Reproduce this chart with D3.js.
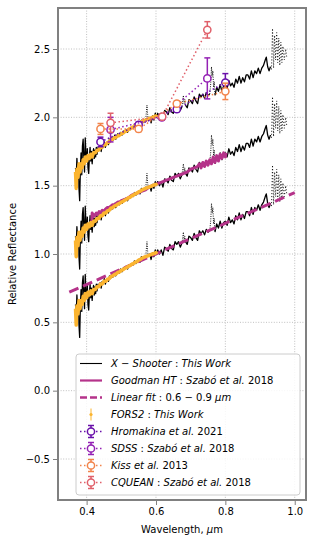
<!DOCTYPE html>
<html><head><meta charset="utf-8">
<script src="https://cdn.jsdelivr.net/npm/d3@7"></script>
<style>body{margin:0;background:#fff}svg{display:block;font-family:"DejaVu Sans",sans-serif}</style>
</head><body>
<script>
// ---- DATA ----
const xTicks = [0.4, 0.6, 0.8, 1.0];
const yTicks = [-0.5, 0.0, 0.5, 1.0, 1.5, 2.0, 2.5];
const offsets = [0, 0.5, 1.0];            // vertical shifts of the three spectra
const goodmanOffset = 0.5;
const tellurics = [[0.570, 0.578], [0.675, 0.685], [0.755, 0.770], [0.930, 0.980]];

// X-Shooter spectrum (wavelength, reflectance) -- base, offset 0
const xsWl = [0.368,0.370,0.372,0.374,0.376,0.378,0.380,0.382,0.384,0.386,0.388,0.390,0.392,0.394,0.396,0.398,0.400,0.402,0.404,0.406,0.408,0.410,0.412,0.414,0.416,0.418,0.420,0.422,0.424,0.426,0.428,
  0.430,0.433,0.436,0.439,0.442,0.445,0.448,0.451,0.454,0.457,0.460,0.463,0.466,0.469,0.472,0.475,0.478,0.481,0.484,0.487,0.490,0.494,0.498,0.502,0.506,0.510,0.514,0.518,0.522,0.526,0.530,0.534,0.538,0.542,0.546,0.550,0.554,0.558,0.562,0.566,0.570,
  0.572,0.574,0.576,0.578,0.582,0.586,0.590,0.594,0.598,
  0.600,0.605,0.610,0.615,0.620,0.625,0.630,0.635,0.640,0.645,0.650,0.655,0.660,0.665,0.670,0.675,
  0.677,0.679,0.681,0.683,0.685,
  0.690,0.695,0.700,0.705,0.710,0.715,0.720,0.725,0.730,0.735,0.740,0.745,0.750,0.755,
  0.758,0.760,0.762,0.764,0.766,0.768,0.770,
  0.775,0.780,0.785,0.790,0.795,0.800,0.805,0.810,0.815,0.820,0.825,0.830,0.835,0.840,0.845,0.850,0.855,0.860,0.865,0.870,0.875,0.880,0.885,0.890,0.895,0.900,0.905,0.910,
  0.915,0.918,0.922,0.926,0.930,
  0.933,0.936,0.939,0.942,0.945,0.948,0.951,0.954,0.957,0.960,0.963,0.966,0.970,0.974,0.977];
const xsVal = [0.63,0.56,0.70,0.60,0.66,0.48,0.39,0.62,0.74,0.58,0.79,0.84,0.70,0.60,0.85,0.72,0.68,0.77,0.63,0.59,0.71,0.78,0.68,0.75,0.66,0.73,0.77,0.70,0.76,0.71,0.78,
  0.73,0.78,0.76,0.79,0.75,0.80,0.79,0.82,0.78,0.81,0.82,0.80,0.84,0.82,0.85,0.83,0.84,0.87,0.84,0.86,0.88,0.86,0.89,0.87,0.90,0.89,0.91,0.89,0.92,0.91,0.93,0.92,0.95,0.93,0.95,0.96,0.94,0.98,0.96,0.98,0.97,
  1.03,1.09,1.02,0.98,1.00,0.96,1.01,0.98,1.03,
  1.00,1.03,1.00,1.03,0.99,1.05,1.04,1.02,1.07,1.04,1.03,1.09,1.07,1.09,1.05,1.08,
  1.12,1.16,1.10,1.13,1.09,
  1.07,1.13,1.12,1.10,1.15,1.12,1.10,1.17,1.15,1.17,1.14,1.18,1.16,1.17,
  1.25,1.37,1.30,1.34,1.22,1.26,1.16,
  1.22,1.19,1.24,1.19,1.23,1.24,1.21,1.27,1.23,1.25,1.22,1.28,1.25,1.30,1.25,1.29,1.26,1.31,1.31,1.28,1.34,1.29,1.34,1.32,1.36,1.32,1.36,1.38,
  1.42,1.44,1.37,1.34,1.37,
  1.35,1.65,1.36,1.60,1.42,1.62,1.40,1.58,1.38,1.55,1.40,1.52,1.42,1.50,1.44];

// FORS2 spectrum -- base, offset 0
const forsWl = [0.368,0.370,0.372,0.375,0.378,0.381,0.384,0.387,0.390,0.393,0.396,0.400,0.404,0.408,0.412,0.416,0.420,0.425,0.430,0.435,0.440,0.445,0.450,0.455,0.460,0.465,0.470,0.475,0.480,0.485,0.490,0.495,0.500,0.505,0.510,0.515,0.520,0.525,0.530,0.535,0.540,0.545,0.550,0.555,0.560,0.565,0.570,0.575,0.580,0.585,0.590,0.595,0.600,0.603];
const forsVal = [0.60,0.48,0.62,0.56,0.66,0.60,0.66,0.63,0.69,0.66,0.71,0.68,0.72,0.70,0.73,0.71,0.74,0.74,0.76,0.76,0.78,0.78,0.80,0.80,0.815,0.82,0.835,0.84,0.85,0.855,0.865,0.87,0.88,0.885,0.895,0.90,0.91,0.915,0.925,0.93,0.94,0.945,0.955,0.96,0.97,0.975,0.98,0.985,0.99,0.995,1.00,1.005,1.01,1.00];

// Goodman HT spectrum -- base (drawn with offset 0.5)
const gdWl = [0.415,0.416,0.418,0.420,0.424,0.428,0.432,0.436,0.440,0.445,0.450,0.455,0.460,0.465,0.470,0.475,0.480,0.485,0.490,0.495,0.500,0.510,0.520,0.530,0.540,0.550,0.560,0.570,0.580,0.590,0.600,0.610,0.620,0.630,0.640,0.650,0.660,0.670,0.680,0.690,0.700,0.710,0.720,0.725,0.730,0.735,0.740,0.745,0.750,0.755,0.760,0.765,0.770,0.775,0.780,0.785,0.790,0.795,0.800,0.802];
const gdVal = [0.73,0.80,0.77,0.79,0.78,0.80,0.79,0.81,0.80,0.82,0.81,0.83,0.84,0.84,0.85,0.86,0.86,0.87,0.88,0.88,0.89,0.90,0.91,0.93,0.94,0.95,0.96,0.97,0.99,1.00,1.01,1.02,1.03,1.04,1.05,1.06,1.07,1.08,1.09,1.10,1.12,1.13,1.14,1.16,1.13,1.17,1.14,1.18,1.15,1.19,1.16,1.21,1.17,1.22,1.18,1.23,1.20,1.24,1.21,1.24];

// Linear fit 0.6-0.9 um
const fitWl = [0.35, 1.0];
const fitVal = [0.721, 1.449];

// Photometry
const hroWl = [0.44, 0.55, 0.66, 0.80];
const hroVal = [1.82, 1.945, 2.06, 2.255];
const hroErr = [0.035, 0.02, 0.02, 0.065];
const sdssWl = [0.469, 0.617, 0.748];
const sdssVal = [1.91, 2.0, 2.285];
const sdssErr = [0.09, 0.02, 0.15];
const kissWl = [0.44, 0.55, 0.66, 0.80];
const kissVal = [1.915, 1.915, 2.10, 2.19];
const kissErr = [0.04, 0.02, 0.02, 0.06];
const cqWl = [0.469, 0.618, 0.748];
const cqVal = [1.96, 2.005, 2.64];
const cqErr = [0.07, 0.02, 0.06];

// ---- CHART ----
const W = 314, H = 544;
const svg = d3.select("body").append("svg").attr("width", W).attr("height", H);
const x = d3.scaleLinear().domain([0.3175, 1.0325]).range([58, 306]);
const y = d3.scaleLinear().domain([-0.8, 2.8]).range([500, 8]);

const colBlack = "#000", colGood = "#b5338a", colFors = "#fbb42f",
      colHro = "#6a10aa", colSdss = "#9421b4", colKiss = "#f2844b", colCq = "#e0606a";

svg.append("defs").append("clipPath").attr("id", "clip")
  .append("rect").attr("x", 58).attr("y", 8).attr("width", 248).attr("height", 492);

// grid
const grid = svg.append("g");
grid.selectAll(".gx").data(xTicks).join("line")
  .attr("x1", d => x(d)).attr("x2", d => x(d)).attr("y1", 8).attr("y2", 500)
  .attr("stroke", "#b0b0b0").attr("stroke-width", 0.8).attr("stroke-dasharray", "1,1.6");
grid.selectAll(".gy").data(yTicks).join("line")
  .attr("y1", d => y(d)).attr("y2", d => y(d)).attr("x1", 58).attr("x2", 306)
  .attr("stroke", "#b0b0b0").attr("stroke-width", 0.8).attr("stroke-dasharray", "1,1.6");

const plot = svg.append("g").attr("clip-path", "url(#clip)");

const inTell = w => tellurics.some(t => w > t[0] && w < t[1]);
const xsPts = xsWl.map((w, i) => ({w, v: xsVal[i]}));
const redEnd = tellurics[tellurics.length - 1][0];

offsets.forEach(off => {
  const solid = xsPts.map(p => ({w: p.w, v: p.v, ok: !inTell(p.w) && p.w <= redEnd}));
  plot.append("path")
    .attr("d", d3.line().defined(p => p.ok).x(p => x(p.w)).y(p => y(p.v + off))(solid))
    .attr("fill", "none").attr("stroke", colBlack).attr("stroke-width", 1.3).attr("stroke-linejoin", "round");
  tellurics.forEach((t, k) => {
    const seg = xsPts.filter(p => p.w >= t[0] && p.w <= t[1]);
    plot.append("path")
      .attr("d", d3.line().x(p => x(p.w)).y(p => y(p.v + off))(seg))
      .attr("fill", "none").attr("stroke", colBlack).attr("stroke-width", 0.9)
      .attr("stroke-dasharray", k === tellurics.length - 1 ? "1,2" : "1,1.3");
  });
});

// Goodman HT
const gdPts = gdWl.map((w, i) => ({w, v: gdVal[i]}));
plot.append("path")
  .attr("d", d3.line().x(p => x(p.w)).y(p => y(p.v + goodmanOffset))(gdPts))
  .attr("fill", "none").attr("stroke", colGood).attr("stroke-width", 3).attr("stroke-linejoin", "round");

// Linear fit
const fitPts = fitWl.map((w, i) => ({w, v: fitVal[i]}));
plot.append("path")
  .attr("d", d3.line().x(p => x(p.w)).y(p => y(p.v))(fitPts))
  .attr("fill", "none").attr("stroke", colGood).attr("stroke-width", 3).attr("stroke-dasharray", "10,5");

// FORS2
const forsPts = forsWl.map((w, i) => ({w, v: forsVal[i]}));
offsets.forEach(off => {
  plot.append("path")
    .attr("d", d3.line().x(p => x(p.w)).y(p => y(p.v + off))(forsPts))
    .attr("fill", "none").attr("stroke", colFors).attr("stroke-width", 3.5).attr("stroke-linejoin", "round");
});

// Photometry
const sets = [
  {wl: hroWl, val: hroVal, err: hroErr, col: colHro},
  {wl: sdssWl, val: sdssVal, err: sdssErr, col: colSdss},
  {wl: kissWl, val: kissVal, err: kissErr, col: colKiss},
  {wl: cqWl, val: cqVal, err: cqErr, col: colCq}
];
sets.forEach(s => {
  const pts = s.wl.map((w, i) => ({w, v: s.val[i], e: s.err[i]}));
  plot.append("path")
    .attr("d", d3.line().x(p => x(p.w)).y(p => y(p.v))(pts))
    .attr("fill", "none").attr("stroke", s.col).attr("stroke-width", 1.5)
    .attr("stroke-dasharray", "1.5,2.5");
  const g = plot.append("g");
  pts.forEach(p => {
    g.append("line").attr("x1", x(p.w)).attr("x2", x(p.w)).attr("y1", y(p.v - p.e)).attr("y2", y(p.v + p.e))
      .attr("stroke", s.col).attr("stroke-width", 1.5);
    [p.v - p.e, p.v + p.e].forEach(v => g.append("line")
      .attr("x1", x(p.w) - 3).attr("x2", x(p.w) + 3).attr("y1", y(v)).attr("y2", y(v))
      .attr("stroke", s.col).attr("stroke-width", 1.5));
    g.append("circle").attr("cx", x(p.w)).attr("cy", y(p.v)).attr("r", 3.6)
      .attr("fill", "#fff").attr("stroke", s.col).attr("stroke-width", 1.5);
  });
});

// Frame
svg.append("rect").attr("x", 58).attr("y", 8).attr("width", 248).attr("height", 492)
  .attr("fill", "none").attr("stroke", "#808080").attr("stroke-width", 2);

// Axes
const yAxis = svg.append("g").attr("transform", "translate(57,0)")
  .call(d3.axisLeft(y).tickValues(yTicks).tickFormat(d3.format(".1f")).tickSize(4).tickPadding(3));
const xAxis = svg.append("g").attr("transform", "translate(0,501)")
  .call(d3.axisBottom(x).tickValues(xTicks).tickFormat(d3.format(".1f")).tickSize(4).tickPadding(3));
[yAxis, xAxis].forEach(a => {
  a.select(".domain").remove();
  a.selectAll(".tick line").attr("stroke", "#808080");
  a.selectAll(".tick text").attr("font-size", 10).attr("fill", "#000").attr("font-family", "DejaVu Sans");
});

// Axis labels
svg.append("text").attr("transform", "translate(16,254) rotate(-90)")
  .attr("text-anchor", "middle").attr("font-size", 10).text("Relative Reflectance");
const xl = svg.append("text").attr("x", 182).attr("y", 533).attr("text-anchor", "middle").attr("font-size", 10);
xl.append("tspan").text("Wavelength, ");
xl.append("tspan").attr("font-style", "italic").text("μ");
xl.append("tspan").text("m");

// Legend
const lg = svg.append("g");
lg.append("rect").attr("x", 76).attr("y", 354).attr("width", 224).attr("height", 141).attr("rx", 3)
  .attr("fill", "#fff").attr("fill-opacity", 0.85).attr("stroke", "#cccccc").attr("stroke-width", 1);
const rows = [
  {type: "line", col: colBlack, w: 1.1, parts: [["X", 1], [" − ", 0], ["Shooter", 1], [" : ", 0], ["This Work", 1]]},
  {type: "line", col: colGood, w: 2.2, parts: [["Goodman HT", 1], [" : ", 0], ["Szabó et al.", 1], [" 2018", 0]]},
  {type: "dash", col: colGood, w: 2.5, parts: [["Linear fit", 1], [" : ", 0], ["0.6 − 0.9 ", 0], ["μm", 1]]},
  {type: "fors", col: colFors, parts: [["FORS2", 1], [" : ", 0], ["This Work", 1]]},
  {type: "pt", col: colHro, parts: [["Hromakina et al.", 1], [" 2021", 0]]},
  {type: "pt", col: colSdss, parts: [["SDSS", 1], [" : ", 0], ["Szabó et al.", 1], [" 2018", 0]]},
  {type: "pt", col: colKiss, parts: [["Kiss et al.", 1], [" 2013", 0]]},
  {type: "pt", col: colCq, parts: [["CQUEAN", 1], [" : ", 0], ["Szabó et al.", 1], [" 2018", 0]]}
];
rows.forEach((r, i) => {
  const cy = 363.5 + i * 17.0;
  if (r.type === "line" || r.type === "dash") {
    const l = lg.append("line").attr("x1", 80).attr("x2", 102).attr("y1", cy).attr("y2", cy)
      .attr("stroke", r.col).attr("stroke-width", r.w);
    if (r.type === "dash") l.attr("stroke-dasharray", "7,3");
  } else if (r.type === "fors") {
    lg.append("line").attr("x1", 91).attr("x2", 91).attr("y1", cy - 6).attr("y2", cy + 6)
      .attr("stroke", r.col).attr("stroke-width", 1);
    lg.append("circle").attr("cx", 91).attr("cy", cy).attr("r", 1.6).attr("fill", r.col);
  } else {
    lg.append("line").attr("x1", 80).attr("x2", 102).attr("y1", cy).attr("y2", cy)
      .attr("stroke", r.col).attr("stroke-width", 1.5).attr("stroke-dasharray", "1.5,2.5");
    lg.append("line").attr("x1", 91).attr("x2", 91).attr("y1", cy - 6).attr("y2", cy + 6)
      .attr("stroke", r.col).attr("stroke-width", 1.5);
    [cy - 6, cy + 6].forEach(v => lg.append("line").attr("x1", 88).attr("x2", 94).attr("y1", v).attr("y2", v)
      .attr("stroke", r.col).attr("stroke-width", 1.5));
    lg.append("circle").attr("cx", 91).attr("cy", cy).attr("r", 3.6)
      .attr("fill", "#fff").attr("stroke", r.col).attr("stroke-width", 1.5);
  }
  const t = lg.append("text").attr("x", 111).attr("y", cy + 3.6).attr("font-size", 10);
  r.parts.forEach(p => t.append("tspan").attr("font-style", p[1] ? "italic" : "normal")
    .attr("xml:space", "preserve").text(p[0]));
});
</script>
</body></html>
